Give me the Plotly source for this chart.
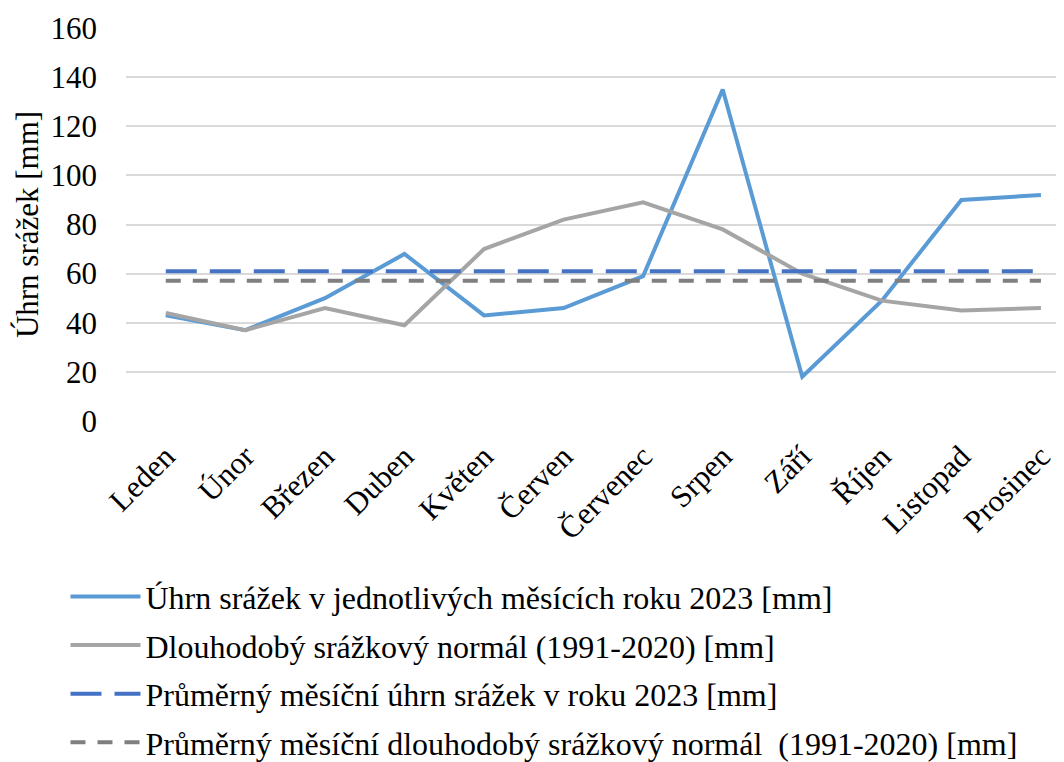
import plotly.graph_objects as go

months = ["Leden", "Únor", "Březen", "Duben", "Květen", "Červen",
          "Červenec", "Srpen", "Září", "Říjen", "Listopad", "Prosinec"]
rain_2023 = [43, 37, 50, 68, 43, 46, 59, 135, 18, 49, 90, 92]
normal_1991_2020 = [44, 37, 46, 39, 70, 82, 89, 78, 60, 49, 45, 46]
avg_2023 = 61.0
avg_normal = 57.1

names = [
    "Úhrn srážek v jednotlivých měsících roku 2023 [mm]",
    "Dlouhodobý srážkový normál (1991-2020) [mm]",
    "Průměrný měsíční úhrn srážek v roku 2023 [mm]",
    "Průměrný měsíční dlouhodobý srážkový normál  (1991-2020) [mm]",
]

FONT = "Liberation Serif, Times New Roman, serif"
FS = 31

fig = go.Figure()
fig.add_trace(go.Scatter(x=months, y=rain_2023, mode="lines", name=names[0],
                         line=dict(color="#5B9BD5", width=4), legendgroup="a"))
fig.add_trace(go.Scatter(x=months, y=normal_1991_2020, mode="lines", name=names[1],
                         line=dict(color="#A5A5A5", width=4), legendgroup="b"))
fig.add_trace(go.Scatter(x=months, y=[avg_2023] * len(months), mode="lines", name=names[2],
                         line=dict(color="#4472C4", width=4, dash="31px,13px"), legendgroup="c"))
fig.add_trace(go.Scatter(x=months, y=[avg_normal] * len(months), mode="lines", name=names[3],
                         line=dict(color="#7F7F7F", width=4, dash="15px,12px"), legendgroup="d"))

fig.update_layout(
    width=1056, height=754,
    margin=dict(l=118, r=0, t=20, b=341, autoexpand=False),
    paper_bgcolor="white", plot_bgcolor="white",
    font=dict(family=FONT, size=FS, color="black"),
    showlegend=True,
    legend=dict(
        orientation="v",
        x=-0.0645, y=-0.377, xanchor="left", yanchor="top",
        font=dict(family=FONT, size=32, color="black"),
        itemwidth=70,
        tracegroupgap=4,
        bgcolor="rgba(0,0,0,0)",
    ),
    xaxis=dict(
        type="category",
        range=[-0.5, 11.29],
        tickangle=-45,
        showgrid=False,
        showline=False,
        zeroline=False,
        ticks="",
        automargin=False,
        ticklabelstandoff=10,
        tickfont=dict(family=FONT, size=FS),
    ),
    yaxis=dict(
        range=[0, 160],
        dtick=20,
        showgrid=True,
        gridcolor="#D9D9D9",
        gridwidth=1.5,
        zeroline=False,
        showline=False,
        ticks="",
        automargin=False,
        ticklabelstandoff=28,
        tickfont=dict(family=FONT, size=FS),
        title=dict(text="Úhrn srážek [mm]", font=dict(family=FONT, size=FS), standoff=2),
    ),
)

fig.write_html("out.html")
